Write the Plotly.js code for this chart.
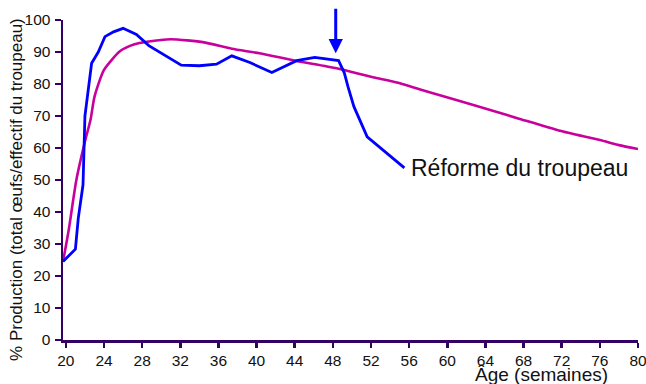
<!DOCTYPE html>
<html>
<head>
<meta charset="utf-8">
<script src="https://cdn.plot.ly/plotly-3.0.1.min.js"></script>
<style>html,body{margin:0;padding:0;background:#fff;}#chart{width:646px;height:384px;}</style>
</head>
<body>
<div id="chart"></div>
<script>
// Standard curve (magenta)
const weeksStandard = [19.7, 20.3, 21.1, 22.0, 22.6, 23.0, 24.0, 25.7, 27.2, 28.5, 31.0, 34.5, 37.4, 40.3, 44.2, 48.4, 52.2, 54.7, 58.5, 63.0, 67.6, 71.8, 76.0, 78.0, 80.0];
const valuesStandard = [24.5, 34.4, 50.0, 62.0, 69.0, 76.0, 84.4, 90.3, 92.4, 93.2, 94.0, 93.0, 91.0, 89.6, 87.2, 84.9, 82.1, 80.5, 77.1, 73.2, 69.1, 65.4, 62.5, 60.9, 59.7];
// Observed flock (blue)
const weeksFlock = [19.7, 21.0, 21.3, 21.8, 22.0, 22.7, 23.4, 24.1, 25.0, 26.0, 27.4, 28.7, 32.1, 34.0, 35.8, 37.4, 39.3, 41.6, 44.2, 46.1, 48.6, 49.2, 49.6, 50.2, 51.6, 55.5];
const valuesFlock = [24.5, 28.4, 38.0, 48.5, 70.0, 86.5, 90.0, 94.8, 96.3, 97.4, 95.5, 92.0, 85.9, 85.7, 86.2, 88.8, 86.7, 83.6, 87.3, 88.3, 87.3, 83.5, 79.0, 73.0, 63.5, 53.8];
const xTicks = [20, 24, 28, 32, 36, 40, 44, 48, 52, 56, 60, 64, 68, 72, 76, 80];
const yTicks = [0, 10, 20, 30, 40, 50, 60, 70, 80, 90, 100];
const xTitle = 'Âge (semaines)';
const yTitle = '% Production (total œufs/effectif du troupeau)';
const cullLabel = 'Réforme du troupeau';
const cullWeek = 48.3;
const cullArrowValue = 89.6;
const labelWeek = 56.0;
const labelValue = 53.6;

const axisColor = '#330066';
const font = 'Liberation Sans, Arial, Helvetica, sans-serif';

const traces = [
  {x: weeksStandard, y: valuesStandard, mode: 'lines', line: {color: '#c8009c', width: 2.6, shape: 'spline', smoothing: 0.6}, hoverinfo: 'skip'},
  {x: weeksFlock, y: valuesFlock, mode: 'lines', line: {color: '#0000ff', width: 2.8}, hoverinfo: 'skip'}
];

const axisCommon = {
  showline: true, linecolor: axisColor, linewidth: 2.5,
  ticks: 'outside', ticklen: 6, tickwidth: 2.5, tickcolor: axisColor,
  showgrid: false, zeroline: false, ticklabeloverflow: 'allow',
  tickfont: {family: font, size: 15.5, color: '#111'}
};

const layout = {
  width: 646, height: 384,
  margin: {l: 63, r: 8, t: 20, b: 44},
  paper_bgcolor: '#fff', plot_bgcolor: '#fff',
  showlegend: false,
  xaxis: Object.assign({}, axisCommon, {range: [19.7, 80], tickvals: xTicks, ticktext: xTicks.map(String), ticklen: 5}),
  yaxis: Object.assign({}, axisCommon, {range: [0, 100], tickvals: yTicks, ticktext: yTicks.map(String), ticklabelstandoff: 1}),
  annotations: [
    {x: cullWeek, y: cullArrowValue, xref: 'x', yref: 'y', text: '', showarrow: true,
     ax: 0, ay: -46, arrowhead: 2, arrowsize: 0.95, arrowwidth: 3, arrowcolor: '#0000ff', standoff: 0},
    {x: labelWeek, y: labelValue, xref: 'x', yref: 'y', text: cullLabel, showarrow: false,
     xanchor: 'left', yanchor: 'middle', font: {family: font, size: 23, color: '#111'}},
    {x: 0.833, y: -0.1375, xref: 'paper', yref: 'paper', text: xTitle, showarrow: false, yshift: -3,
     xanchor: 'center', yanchor: 'bottom', font: {family: font, size: 19, color: '#111'}},
    {x: -0.08, y: 0.469, xref: 'paper', yref: 'paper', text: yTitle, showarrow: false, textangle: -90,
     xanchor: 'center', yanchor: 'middle', font: {family: font, size: 17, color: '#111'}}
  ]
};

Plotly.newPlot('chart', traces, layout, {staticPlot: true, displayModeBar: false});
</script>
</body>
</html>
